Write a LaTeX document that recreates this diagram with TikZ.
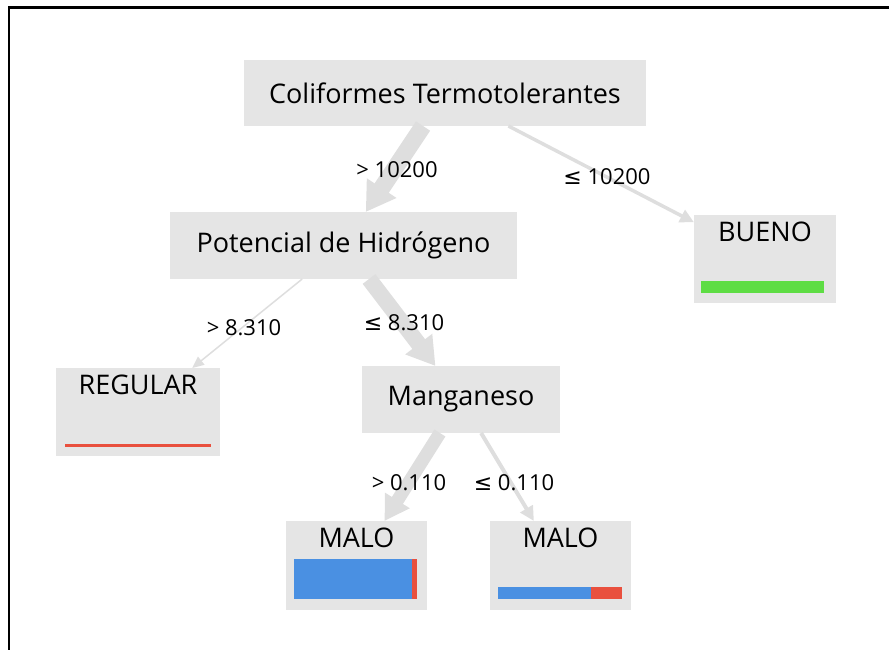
\documentclass[tikz,border=0pt]{standalone}
\usepackage{fontspec}
\setmainfont{Open Sans}
\newfontfamily\symfont{DejaVu Sans}
\usetikzlibrary{calc,arrows.meta}
\definecolor{boxgray}{RGB}{229,229,229}
\definecolor{edgegray}{RGB}{222,222,222}
\definecolor{leafgreen}{RGB}{94,221,68}
\definecolor{leafblue}{RGB}{74,144,226}
\definecolor{leafred}{RGB}{233,80,62}
\newcommand{\lesym}{{\symfont ≤}}
\tikzset{
	split/.style={fill=boxgray, outer sep=0pt, inner sep=0pt, font=\fontsize{27}{32}\selectfont},
	leaf/.style={fill=boxgray, outer sep=0pt, inner sep=0pt, text height=26.5pt, text depth=61.5pt, font=\fontsize{27}{32}\selectfont},
	cond/.style={inner sep=0pt, font=\fontsize{22}{26}\selectfont},
	branch/.style={draw=edgegray, -{Triangle[length=10pt 1.1, width=8pt 1.5]}},
}

\begin{document}
\begin{tikzpicture}[x=1pt, y=-1pt]
			%%%%% START %%%%%
			\useasboundingbox (0, 0) rectangle (889, 650);
			\draw[line width=2.5pt] (9, 650) -- (9, 7.5) -- (889, 7.5);
			
			\node[split, minimum width=402pt, minimum height=66pt] (coli) at (445, 93) {Coliformes Termotolerantes};
			\node[split, minimum width=347pt, minimum height=67pt] (ph) at (343.5, 245.5) {Potencial de Hidrógeno};
			\node[split, minimum width=198pt, minimum height=67pt] (mn) at (461, 399.5) {Manganeso};
			
			\node[leaf, minimum width=142pt] (bueno) at (765, 259) {BUENO};
			\node[leaf, minimum width=164pt] (regular) at (138, 412) {REGULAR};
			\node[leaf, minimum width=141pt, text depth=62.5pt] (maloA) at (356.5, 565.5) {MALO};
			\node[leaf, minimum width=141pt, text depth=62.5pt] (maloB) at (560.5, 565.5) {MALO};
			
			\fill[leafgreen] ($(bueno.south west)+(7, -10)$) rectangle ++(123, -12);
			\fill[leafred] ($(regular.south west)+(9, -9)$) rectangle ++(146, -3);
			\fill[leafblue] ($(maloA.south west)+(8, -11)$) rectangle ++(118, -40);
			\fill[leafred] ($(maloA.south west)+(126, -11)$) rectangle ++(5, -40);
			\fill[leafblue] ($(maloB.south west)+(8, -11)$) rectangle ++(93, -12);
			\fill[leafred] ($(maloB.south west)+(101, -11)$) rectangle ++(31, -12);
			
			\draw[branch, line width=17pt] (coli) -- (ph);
			\draw[branch, line width=3.5pt] (coli) -- (bueno);
			\draw[branch, line width=1.5pt] (ph) -- (regular);
			\draw[branch, line width=16pt] (ph) -- (mn);
			\draw[branch, line width=13pt] (mn) -- (maloA);
			\draw[branch, line width=4pt] (mn) -- (maloB);
			
			\node[cond] (gtA) at (397, 170) {> 10200};
			\node[cond] (leA) at (607, 177) {\lesym\ 10200};
			\node[cond] (gtB) at (244, 328) {> 8.310};
			\node[cond] (leB) at (404, 323) {\lesym\ 8.310};
			\node[cond] (gtC) at (409, 483) {> 0.110};
			\node[cond] (leC) at (514, 483) {\lesym\ 0.110};
			%%%%% END %%%%%
\end{tikzpicture}
\end{document}
